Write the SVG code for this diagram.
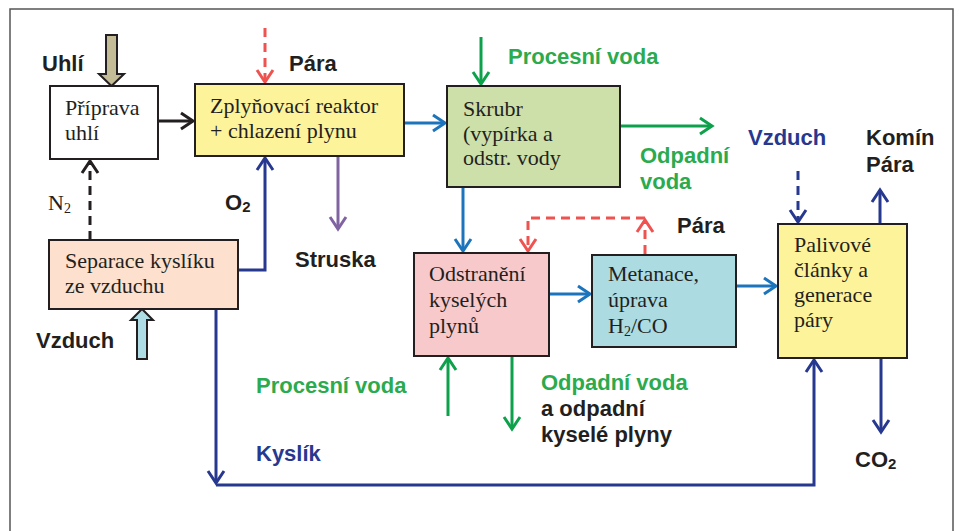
<svg xmlns="http://www.w3.org/2000/svg" width="959" height="531" viewBox="0 0 959 531">
<style>
.box{stroke:#231F20;stroke-width:2}
.t{font-family:"Liberation Serif","Times New Roman",serif;font-size:22px;fill:#231F20}
.b{font-family:"Liberation Sans",Arial,sans-serif;font-weight:bold;font-size:22px;fill:#231F20}
.gt{fill:#2BAA4E}
.bt{fill:#26388F}
.ln{fill:none;stroke-width:3}
.k{stroke:#231F20}
.r{stroke:#EF5350}
.db{stroke:#26388F}
.bl{stroke:#1C75BC}
.g{stroke:#0DA14B}
.p{stroke:#8064A2}
.dash{stroke-dasharray:9 6}
</style>
<defs>
<marker id="mk" markerUnits="userSpaceOnUse" markerWidth="20" markerHeight="20" refX="14" refY="10" orient="auto"><path d="M2,2 L14,10 L2,18" fill="none" stroke="#231F20" stroke-width="3"/></marker>
<marker id="mr" markerUnits="userSpaceOnUse" markerWidth="20" markerHeight="20" refX="14" refY="10" orient="auto"><path d="M2,2 L14,10 L2,18" fill="none" stroke="#EF5350" stroke-width="3"/></marker>
<marker id="mdb" markerUnits="userSpaceOnUse" markerWidth="20" markerHeight="20" refX="14" refY="10" orient="auto"><path d="M2,2 L14,10 L2,18" fill="none" stroke="#26388F" stroke-width="3"/></marker>
<marker id="mbl" markerUnits="userSpaceOnUse" markerWidth="20" markerHeight="20" refX="14" refY="10" orient="auto"><path d="M2,2 L14,10 L2,18" fill="none" stroke="#1C75BC" stroke-width="3"/></marker>
<marker id="mg" markerUnits="userSpaceOnUse" markerWidth="20" markerHeight="20" refX="14" refY="10" orient="auto"><path d="M2,2 L14,10 L2,18" fill="none" stroke="#0DA14B" stroke-width="3"/></marker>
<marker id="mp" markerUnits="userSpaceOnUse" markerWidth="20" markerHeight="20" refX="14" refY="10" orient="auto"><path d="M2,2 L14,10 L2,18" fill="none" stroke="#8064A2" stroke-width="3"/></marker>
</defs>
<rect width="959" height="531" fill="#fff"/>
<path d="M10,531 V9 H953 V531" fill="none" stroke="#555" stroke-width="1.5"/>

<g id="connectors">
<path class="ln k" d="M158,121 H193" marker-end="url(#mk)"/>
<path class="ln k dash" d="M90,240 V161" marker-end="url(#mk)"/>
<path class="ln r dash" d="M265,28 V82" marker-end="url(#mr)"/>
<path class="ln db" d="M238,270 H265 V158" marker-end="url(#mdb)"/>
<path class="ln p" d="M338,156 V229" marker-end="url(#mp)"/>
<path class="ln bl" d="M404,123 H445" marker-end="url(#mbl)"/>
<path class="ln g" d="M481,37 V84" marker-end="url(#mg)"/>
<path class="ln g" d="M620,126 H712" marker-end="url(#mg)"/>
<path class="ln bl" d="M463,187 V251" marker-end="url(#mbl)"/>
<path class="ln r dash" d="M645,254 V220" marker-end="url(#mr)"/>
<path class="ln r dash" d="M645,218 H528 V251" marker-end="url(#mr)"/>
<path class="ln bl" d="M549,294 H590" marker-end="url(#mbl)"/>
<path class="ln bl" d="M736,286 H776" marker-end="url(#mbl)"/>
<path class="ln db dash" d="M798,171 V222" marker-end="url(#mdb)"/>
<path class="ln db" d="M880,224 V190" marker-end="url(#mdb)"/>
<path class="ln db" d="M881,358 V432" marker-end="url(#mdb)"/>
<path class="ln db" d="M216,309 V483" marker-end="url(#mdb)"/>
<path class="ln db" d="M216,485 H814 V360" marker-end="url(#mdb)"/>
<path class="ln g" d="M448,416 V358" marker-end="url(#mg)"/>
<path class="ln g" d="M512,356 V429" marker-end="url(#mg)"/>
<path d="M106,35 H117 V74 H124 L111.5,86 L99,74 H106 Z" fill="#C4BC96" stroke="#231F20" stroke-width="2"/>
<path d="M137,359 H147 V320 H153 L142,309 L131,320 H137 Z" fill="#AEDDE5" stroke="#231F20" stroke-width="2"/>
</g>

<g id="priprava">
<rect class="box" x="50" y="86" width="108" height="73" fill="#fff"/>
<text class="t" x="65" y="115">Příprava</text>
<text class="t" x="65" y="140">uhlí</text>
</g>
<g id="zplynovaci">
<rect class="box" x="195" y="84" width="209" height="72" fill="#FDF39B"/>
<text class="t" x="210" y="113">Zplyňovací reaktor</text>
<text class="t" x="210" y="138">+ chlazení plynu</text>
</g>
<g id="skrubr">
<rect class="box" x="447" y="86" width="173" height="101" fill="#CDE0A9"/>
<text class="t" x="463" y="116">Skrubr</text>
<text class="t" x="463" y="141">(vypírka a</text>
<text class="t" x="463" y="165">odstr. vody</text>
</g>
<g id="separace">
<rect class="box" x="49" y="240" width="189" height="69" fill="#FDE1CE"/>
<text class="t" x="65" y="268">Separace kyslíku</text>
<text class="t" x="65" y="293">ze vzduchu</text>
</g>
<g id="odstraneni">
<rect class="box" x="414" y="253" width="135" height="103" fill="#F8C9CB"/>
<text class="t" x="429" y="281">Odstranění</text>
<text class="t" x="429" y="307">kyselých</text>
<text class="t" x="429" y="333">plynů</text>
</g>
<g id="metanace">
<rect class="box" x="592" y="255" width="144" height="92" fill="#ADDBE2"/>
<text class="t" x="608" y="281">Metanace,</text>
<text class="t" x="608" y="307">úprava</text>
<text class="t" x="608" y="333">H<tspan font-size="14" dy="3">2</tspan><tspan dy="-3">/CO</tspan></text>
</g>
<g id="palivove">
<rect class="box" x="778" y="224" width="129" height="134" fill="#FDF39B"/>
<text class="t" x="794" y="252">Palivové</text>
<text class="t" x="794" y="277">články a</text>
<text class="t" x="794" y="302">generace</text>
<text class="t" x="794" y="327">páry</text>
</g>

<g id="labels">
<text class="b" x="42" y="71">Uhlí</text>
<text class="b" x="289" y="71">Pára</text>
<text class="t" x="48" y="210">N<tspan font-size="14" dy="3">2</tspan></text>
<text class="b" x="225" y="210">O<tspan font-size="15" dy="2">2</tspan></text>
<text class="b" x="295" y="267">Struska</text>
<text class="b gt" x="508" y="64">Procesní voda</text>
<text class="b gt" x="640" y="163">Odpadní</text>
<text class="b gt" x="640" y="189">voda</text>
<text class="b bt" x="748" y="145">Vzduch</text>
<text class="b" x="866" y="145">Komín</text>
<text class="b" x="866" y="172">Pára</text>
<text class="b" x="677" y="233">Pára</text>
<text class="b" x="36" y="348">Vzduch</text>
<text class="b gt" x="256" y="393">Procesní voda</text>
<text class="b bt" x="256" y="461">Kyslík</text>
<text class="b gt" x="541" y="390">Odpadní voda</text>
<text class="b" x="541" y="416">a odpadní</text>
<text class="b" x="541" y="442">kyselé plyny</text>
<text class="b" x="855" y="467">CO<tspan font-size="15" dy="2">2</tspan></text>
</g>
</svg>
